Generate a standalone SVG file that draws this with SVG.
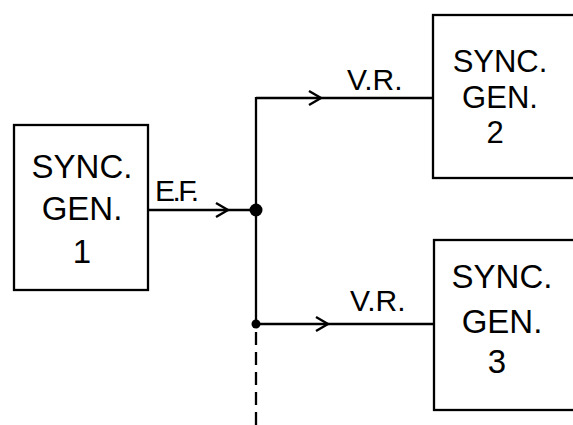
<svg xmlns="http://www.w3.org/2000/svg" width="573" height="425" viewBox="0 0 573 425">
<style>
.box{fill:#fff;stroke:#000;stroke-width:2.3}
.t{font-family:"Liberation Sans","DejaVu Sans",sans-serif;font-size:33px;fill:#000;text-anchor:middle}
.t2{font-size:31px}
.lbl{font-family:"Liberation Sans","DejaVu Sans",sans-serif;font-size:30px;fill:#000}
.ln{fill:none;stroke:#000;stroke-width:2.3}
.ah{fill:none;stroke:#000;stroke-width:2.4}
</style>
<rect width="573" height="425" fill="#fff"/>
<g id="connectors">
  <line class="ln" x1="148" y1="210" x2="256" y2="210"/>
  <path class="ah" d="M216,203 L228,210 L216,217"/>
  <line class="ln" x1="256" y1="97" x2="256" y2="324"/>
  <line class="ln" x1="256" y1="332" x2="256" y2="425" stroke-dasharray="13,7"/>
  <line class="ln" x1="256" y1="98" x2="433" y2="98"/>
  <path class="ah" d="M309,91 L321,98 L309,105"/>
  <line class="ln" x1="256" y1="324" x2="434" y2="324"/>
  <path class="ah" d="M316,317 L328,324 L316,331"/>
  <circle cx="256" cy="210" r="6.5" fill="#000"/>
  <circle cx="256" cy="324" r="4.5" fill="#000"/>
  <text class="lbl" x="155" y="201" font-size="27" textLength="44">E.F.</text>
  <text class="lbl" x="347" y="90">V.R.</text>
  <text class="lbl" x="350" y="311">V.R.</text>
</g>
<g id="gen1">
  <rect class="box" x="14" y="125" width="134" height="165"/>
  <text class="t" x="82" y="178">SYNC.</text>
  <text class="t" x="82" y="220">GEN.</text>
  <text class="t" x="82" y="263">1</text>
</g>
<g id="gen2">
  <rect class="box" x="433" y="15" width="160" height="163"/>
  <text class="t t2" x="500" y="72">SYNC.</text>
  <text class="t t2" x="500" y="108">GEN.</text>
  <text class="t t2" x="495" y="143">2</text>
</g>
<g id="gen3">
  <rect class="box" x="434" y="240" width="160" height="170"/>
  <text class="t" x="502" y="288">SYNC.</text>
  <text class="t" x="502" y="333">GEN.</text>
  <text class="t" x="497" y="373">3</text>
</g>
</svg>
